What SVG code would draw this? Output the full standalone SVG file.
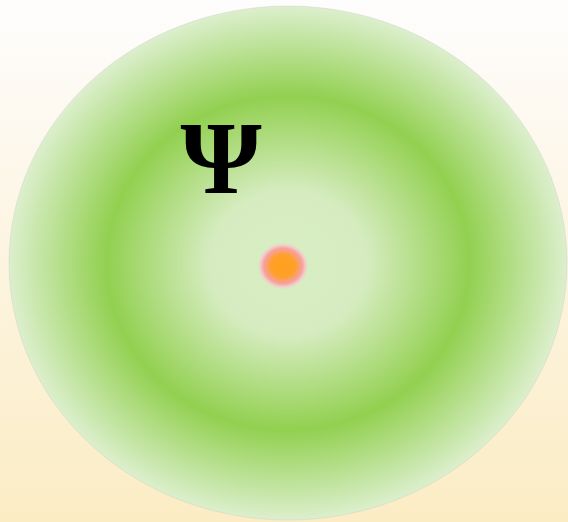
<svg xmlns="http://www.w3.org/2000/svg" width="568" height="522" viewBox="0 0 568 522">
<defs>
<linearGradient id="bg" x1="0" y1="0" x2="0" y2="1">
<stop offset="0" stop-color="#fefdfd"/>
<stop offset="1" stop-color="#fbecc4"/>
</linearGradient>
<radialGradient id="cloud" cx="0.5" cy="0.5" r="0.5">
<stop offset="0" stop-color="#d8edc3"/>
<stop offset="0.28" stop-color="#d6ecc0"/>
<stop offset="0.65" stop-color="#92d050"/>
<stop offset="1" stop-color="#dcefcd"/>
</radialGradient>
<radialGradient id="nuc" cx="0.5" cy="0.5" r="0.5">
<stop offset="0" stop-color="#ffa020"/>
<stop offset="0.5" stop-color="#ffa028"/>
<stop offset="0.8" stop-color="#f6a0a0"/>
<stop offset="1" stop-color="#f6dcd4"/>
</radialGradient>
</defs>
<style>
.psi{font-family:"Liberation Serif","DejaVu Serif",serif;font-size:104px;font-weight:bold;fill:#000}
</style>
<rect width="568" height="522" fill="url(#bg)"/>
<g id="cloud-shape">
<ellipse cx="288" cy="263" rx="279" ry="257" fill="url(#cloud)" stroke="#c8c8c0" stroke-width="0.6" stroke-opacity="0.6"/>
</g>
<g id="nucleus">
<ellipse cx="283" cy="266" rx="24" ry="22" fill="url(#nuc)" stroke="#d0c8c0" stroke-width="0.5" stroke-opacity="0.6"/>
</g>
<g id="label">
<text class="psi" x="221" y="193" text-anchor="middle">Ψ</text>
</g>
</svg>
